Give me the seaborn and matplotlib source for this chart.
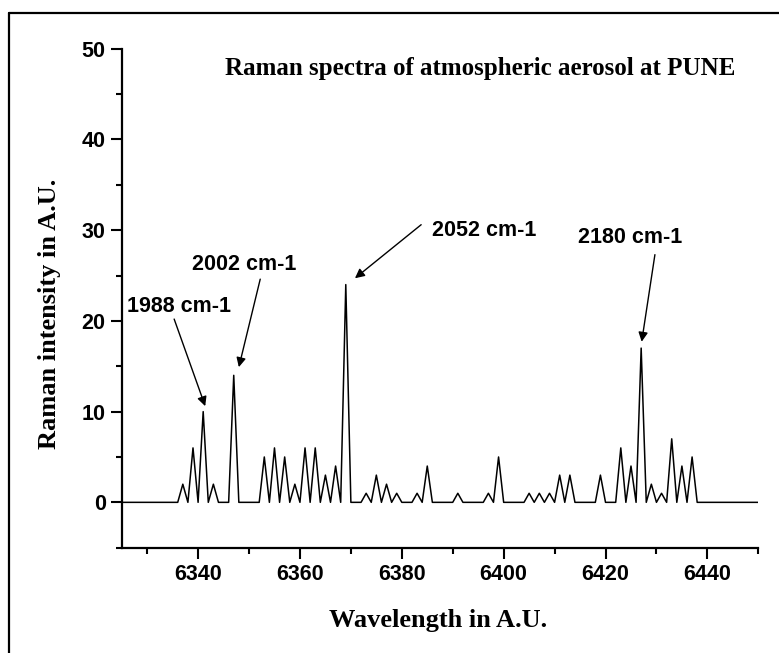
import numpy as np
import pandas as pd
import matplotlib
matplotlib.use('Agg')
import matplotlib.pyplot as plt
from matplotlib.lines import Line2D
from matplotlib.ticker import MultipleLocator
import seaborn as sns

# wavelength grid (A.U.) and Raman intensity
wavelength = list(range(6325, 6451))
intensity = [
    0, 0, 0, 0, 0, 0, 0, 0, 0, 0,      # 6325-6334
    0, 0, 2, 0, 6, 0, 10, 0, 2, 0,     # 6335-6344
    0, 0, 14, 0, 0, 0, 0, 0, 5, 0,     # 6345-6354
    6, 0, 5, 0, 2, 0, 6, 0, 6, 0,      # 6355-6364
    3, 0, 4, 0, 24, 0, 0, 0, 1, 0,     # 6365-6374
    3, 0, 2, 0, 1, 0, 0, 0, 1, 0,      # 6375-6384
    4, 0, 0, 0, 0, 0, 1, 0, 0, 0,      # 6385-6394
    0, 0, 1, 0, 5, 0, 0, 0, 0, 0,      # 6395-6404
    1, 0, 1, 0, 1, 0, 3, 0, 3, 0,      # 6405-6414
    0, 0, 0, 0, 3, 0, 0, 0, 6, 0,      # 6415-6424
    4, 0, 17, 0, 2, 0, 1, 0, 7, 0,     # 6425-6434
    4, 0, 5, 0, 0, 0, 0, 0, 0, 0,      # 6435-6444
    0, 0, 0, 0, 0, 0,                  # 6445-6450
]

# peak labels: text, text position, arrow tip
peak_labels = ['1988 cm-1', '2002 cm-1', '2052 cm-1', '2180 cm-1']
label_xy = [(6336.2, 21.6), (6349.1, 26.2), (6396.2, 30.0), (6424.9, 29.2)]
arrow_start = [(6335.3, 20.2), (6352.2, 24.6), (6383.8, 30.6), (6429.7, 27.3)]
arrow_tip = [(6341.4, 10.6), (6348.0, 14.9), (6370.8, 24.7), (6427.1, 17.7)]

df = pd.DataFrame({'wavelength': wavelength, 'intensity': intensity})

sns.set_style('ticks')
plt.rcParams['font.family'] = ['Liberation Sans', 'DejaVu Sans']
plt.rcParams['text.color'] = 'black'
plt.rcParams['axes.labelcolor'] = 'black'
plt.rcParams['xtick.color'] = 'black'
plt.rcParams['ytick.color'] = 'black'

fig = plt.figure(figsize=(7.79, 6.53), dpi=100)
ax = fig.add_axes([121.7 / 779, 1 - 547.7 / 653, (758.3 - 121.7) / 779, 499 / 653])

sns.lineplot(data=df, x='wavelength', y='intensity', color='black', linewidth=1.1, ax=ax)

ax.set_xlim(6325, 6450)
ax.set_ylim(-5, 50)
ax.xaxis.set_major_locator(MultipleLocator(20))
ax.xaxis.set_minor_locator(MultipleLocator(10))
ax.yaxis.set_major_locator(MultipleLocator(10))
ax.yaxis.set_minor_locator(MultipleLocator(5))
ax.set_xticks([6340, 6360, 6380, 6400, 6420, 6440])
ax.tick_params(which='major', length=8, width=1.5, direction='out', labelsize=15.5,
               colors='black', labelcolor='black')
ax.tick_params(which='minor', length=4, width=1.5, direction='out', colors='black')
for lab in ax.get_xticklabels() + ax.get_yticklabels():
    lab.set_fontweight('bold')

sns.despine(ax=ax)
for s in ['left', 'bottom']:
    ax.spines[s].set_linewidth(1.6)
    ax.spines[s].set_color('black')

serif = ['Liberation Serif', 'DejaVu Serif']
ax.set_xlabel('')
ax.set_ylabel('')
fig.text(438 / 779, 1 - 621 / 653, 'Wavelength in A.U.', ha='center', va='center',
         fontsize=19, fontweight='bold', family=serif, color='black')
fig.text(50 / 779, 1 - 314 / 653, 'Raman intensity in A.U.', ha='center', va='center',
         rotation=90, fontsize=19, fontweight='bold', family=serif, color='black')

ax.text(6395.4, 47.8, 'Raman spectra of atmospheric aerosol at PUNE', ha='center', va='center',
        fontsize=18, fontweight='bold', family=serif, color='black')

for lab, txy, a0, a1 in zip(peak_labels, label_xy, arrow_start, arrow_tip):
    ax.text(txy[0], txy[1], lab, ha='center', va='center', fontsize=15.5, fontweight='bold',
            color='black')
    ax.annotate('', xy=a1, xytext=a0,
                arrowprops=dict(arrowstyle='-|>', color='black', lw=1.0,
                                mutation_scale=14, shrinkA=0, shrinkB=0))

# outer frame (left and top edges visible)
fig.add_artist(Line2D([9 / 779, 9 / 779], [0, 1 - 13 / 653], transform=fig.transFigure,
                      color='black', linewidth=1.6))
fig.add_artist(Line2D([9 / 779, 1], [1 - 13 / 653, 1 - 13 / 653], transform=fig.transFigure,
                      color='black', linewidth=1.6))

fig.savefig('out.png', dpi=100)
